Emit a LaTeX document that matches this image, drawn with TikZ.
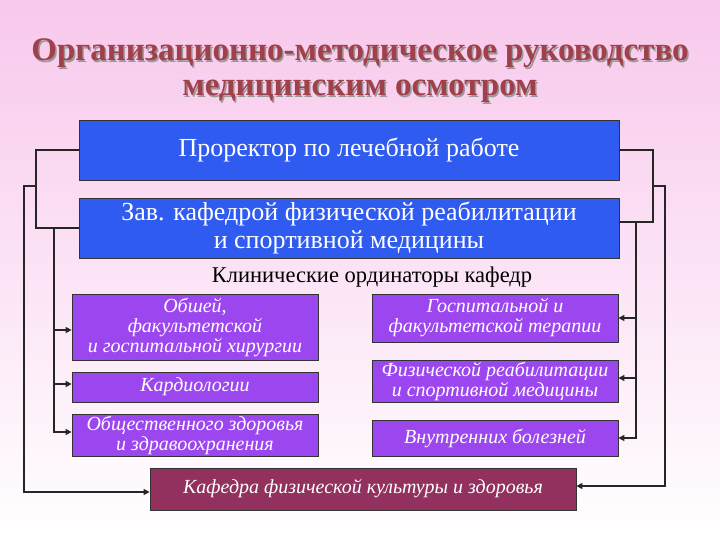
\documentclass[tikz,border=0pt]{standalone}
\usepackage{fontspec}
\setmainfont{Liberation Serif}
\usetikzlibrary{arrows.meta}
\definecolor{bgpink}{HTML}{F8C8EC}
\definecolor{blueb}{HTML}{2F5BF0}
\definecolor{purb}{HTML}{9C46F0}
\definecolor{wine}{HTML}{92305E}
\definecolor{titc}{HTML}{A0404A}
\tikzset{
 box/.style={draw=black!80,line width=0.8pt,inner sep=0pt,text=white,align=center},
 bluebox/.style={box,fill=blueb,font=\fontsize{26}{28}\selectfont},
 purbox/.style={box,fill=purb,font=\itshape\fontsize{20}{20}\selectfont},
 line/.style={line width=1.5pt,black!85},
 arr/.style={line,-{Triangle[length=6pt,width=6pt]}}
}
\begin{document}
\begin{tikzpicture}[x=1pt,y=-1pt]
\shade[left color=bgpink,right color=white,shading angle=0] (0,0) rectangle (720,540);
\useasboundingbox (0,0) rectangle (720,540);
\node[font=\bfseries\fontsize{33}{35}\selectfont,text=black!40,align=center] at (361.5,72.5) {Организационно-методическое руководство\\медицинским осмотром};
\node[font=\bfseries\fontsize{33}{35}\selectfont,text=titc,align=center] (title) at (360,71) {Организационно-методическое руководство\\медицинским осмотром};
\node[bluebox,minimum width=540,minimum height=60] (pr) at (349,150) {Проректор по лечебной работе};
\node[bluebox,minimum width=540,minimum height=60] (zav) at (349,228) {Зав. кафедрой физической реабилитации\\и спортивной медицины};
\node[font=\fontsize{22.5}{24}\selectfont] (kl) at (372,277) {Клинические ординаторы кафедр};
\node[purbox,minimum width=246,minimum height=66] (l1) at (195,327) {Обшей,\\факультетской\\и госпитальной хирургии};
\node[purbox,minimum width=246,minimum height=30] (l2) at (195,387) {Кардиологии};
\node[purbox,minimum width=246,minimum height=42] (l3) at (195,435) {Общественного здоровья\\и здравоохранения};
\node[purbox,minimum width=246,minimum height=48] (r1) at (495,318) {Госпитальной и\\факультетской терапии};
\node[purbox,minimum width=246,minimum height=42] (r2) at (495,381) {Физической реабилитации\\и спортивной медицины};
\node[purbox,minimum width=246,minimum height=36] (r3) at (495,438) {Внутренних болезней};
\node[box,fill=wine,font=\itshape\fontsize{20}{20}\selectfont,minimum width=426,minimum height=42] (kf) at (363,489) {Кафедра физической культуры и здоровья};
% left connectors
\coordinate (la) at (36,186);
\coordinate (lb) at (54,228);
\draw[line] (pr.west) -- (36,150) -- (36,228) -- (zav.west);
\draw[arr] (la) -- (24,186) -- (24,492) -- (kf.west|-0,492);
\draw[arr] (lb) -- (54,330) -- (l1.west|-0,330);
\draw[arr] (54,330) -- (54,384) -- (l2.west|-0,384);
\draw[arr] (54,384) -- (54,432) -- (l3.west|-0,432);
% right connectors
\coordinate (ra) at (653,186);
\coordinate (rb) at (636,222);
\draw[line] (pr.east|-0,150) -- (653,150) -- (653,222) -- (zav.east|-0,222);
\draw[arr] (ra) -- (665,186) -- (665,486) -- (kf.east|-0,486);
\draw[arr] (rb) -- (636,318) -- (r1.east|-0,318);
\draw[arr] (636,318) -- (636,378) -- (r2.east|-0,378);
\draw[arr] (636,378) -- (636,438) -- (r3.east|-0,438);
\end{tikzpicture}
\end{document}
